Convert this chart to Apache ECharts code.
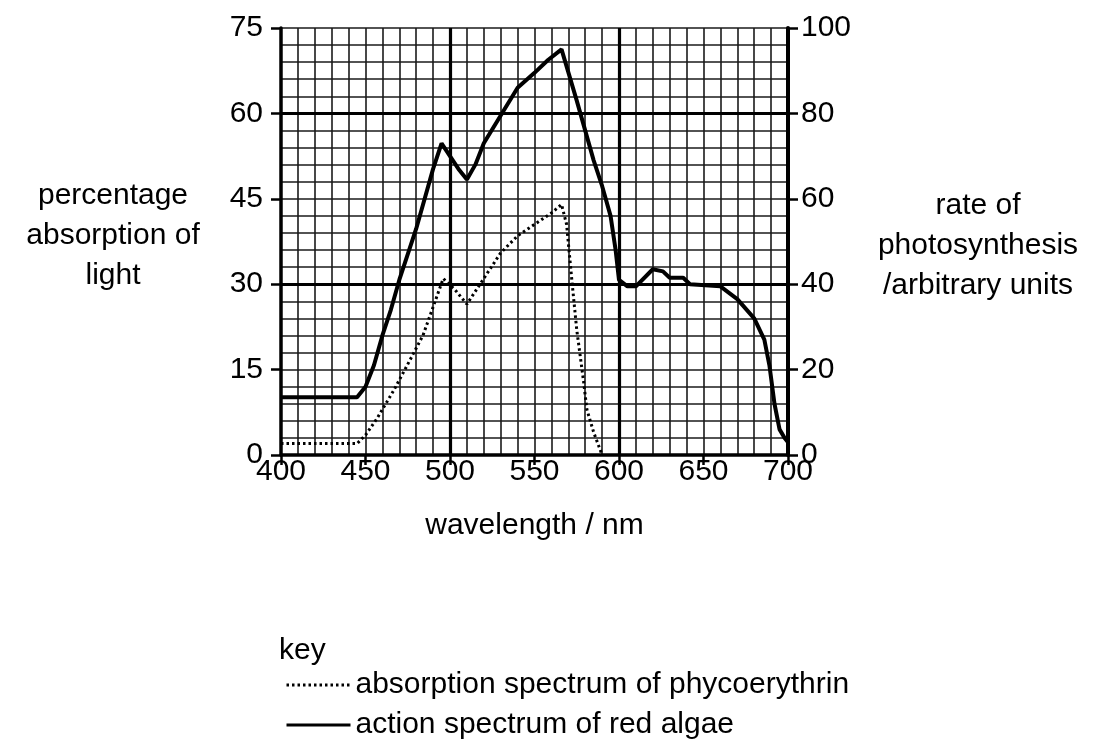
<!DOCTYPE html>
<html>
<head>
<meta charset="utf-8">
<script src="https://cdn.jsdelivr.net/npm/echarts@6/dist/echarts.min.js"></script>
<style>
  html, body { margin: 0; padding: 0; background: #fff; }
  #chart { width: 1095px; height: 745px; }
</style>
</head>
<body>
<div id="chart"></div>
<script>
// phycoerythrin absorption, % (left axis)
const absorption = [
  [400, 2], [445, 2], [450, 3.5], [457, 6.5], [467, 11.5], [476, 16.5],
  [484, 21], [490, 26], [496, 31], [503, 29], [510, 26.5], [520, 31],
  [530, 35.5], [540, 38.5], [550, 40.5], [560, 42.5], [566, 44],
  [569, 40.5], [572, 31], [575, 22], [579, 13], [581, 8], [585, 4], [590, 0]
];
// red algae action spectrum, arbitrary units (right axis)
const action = [
  [400, 13.5], [445, 13.5], [450, 16], [455, 21], [460, 28], [465, 34],
  [470, 41], [480, 53], [490, 67], [495, 73], [500, 70], [505, 67],
  [510, 64.5], [515, 68], [520, 73], [530, 79.5], [540, 86], [550, 89.5],
  [558, 92.5], [566, 95], [575, 83], [585, 69], [590, 63], [595, 56],
  [598, 48], [600, 41], [605, 39.5], [610, 39.5], [620, 43.5], [626, 43],
  [630, 41.5], [638, 41.5], [642, 40], [660, 39.5], [670, 36.5], [680, 32],
  [686, 27], [689, 21], [692, 12], [695, 6], [698, 4], [700, 3]
];
// heavy grid lines
const majorX = [500, 600];
const majorY = [30, 60];

const seriesNames = ['absorption spectrum of phycoerythrin', 'action spectrum of red algae'];
const FONT = 'Liberation Sans, Arial, sans-serif';

let chart = echarts.init(document.getElementById('chart'));

const thinGrid = { show: true, lineStyle: { color: '#1a1a1a', width: 1.6 } };

chart.setOption({
  backgroundColor: '#fff',
  animation: false,
  grid: { left: 281, right: 307, top: 28, bottom: 290 },
  legend: {
    data: seriesNames,
    orient: 'vertical',
    left: 280,
    bottom: 0,
    itemWidth: 64,
    itemHeight: 2,
    itemGap: 10,
    selectedMode: false,
    itemStyle: { opacity: 0 },
    lineStyle: { width: 3 },
    textStyle: { fontFamily: FONT, fontSize: 30, color: '#000' }
  },
  graphic: [
    { type: 'text', left: 279, top: 636,
      style: { text: 'key', font: '30px ' + FONT, fill: '#000' } },
    { type: 'text', x: 113, y: 236,
      style: { text: 'percentage\nabsorption of\nlight', font: '30px ' + FONT, fill: '#000',
               textAlign: 'center', textVerticalAlign: 'middle', lineHeight: 40 } },
    { type: 'text', x: 978, y: 246,
      style: { text: 'rate of\nphotosynthesis\n/arbitrary units', font: '30px ' + FONT, fill: '#000',
               textAlign: 'center', textVerticalAlign: 'middle', lineHeight: 40 } }
  ],
  xAxis: [
    {
      type: 'value', min: 400, max: 700, interval: 50,
      name: 'wavelength / nm', nameLocation: 'middle', nameGap: 56,
      nameTextStyle: { fontFamily: FONT, fontSize: 30, color: '#000' },
      axisLine: { show: true, onZero: false, lineStyle: { color: '#000', width: 3.5 } },
      axisTick: { show: true, length: 10, lineStyle: { color: '#000', width: 2.5 } },
      axisLabel: { margin: 2, fontFamily: FONT, fontSize: 30, color: '#000' },
      splitLine: { show: false }
    },
    {
      type: 'value', min: 400, max: 700, interval: 10,
      axisLine: { show: false }, axisTick: { show: false }, axisLabel: { show: false },
      splitLine: thinGrid
    }
  ],
  yAxis: [
    {
      type: 'value', min: 0, max: 75, interval: 15, position: 'left',
      axisLine: { show: true, lineStyle: { color: '#000', width: 3.5 } },
      axisTick: { show: true, length: 10, lineStyle: { color: '#000', width: 2.5 } },
      axisLabel: { margin: 18, fontFamily: FONT, fontSize: 30, color: '#000' },
      splitLine: { show: false }
    },
    {
      type: 'value', min: 0, max: 100, interval: 20, position: 'right',
      axisLine: { show: true, lineStyle: { color: '#000', width: 4 } },
      axisTick: { show: true, length: 10, lineStyle: { color: '#000', width: 2.5 } },
      axisLabel: { margin: 13, fontFamily: FONT, fontSize: 30, color: '#000' },
      splitLine: { show: false }
    },
    {
      type: 'value', min: 0, max: 75, interval: 3, position: 'left',
      axisLine: { show: false }, axisTick: { show: false }, axisLabel: { show: false },
      splitLine: thinGrid
    }
  ],
  series: [
    {
      name: seriesNames[0],
      type: 'line',
      xAxisIndex: 0, yAxisIndex: 0,
      data: absorption,
      symbol: 'none',
      z: 5,
      lineStyle: { color: '#000', width: 3, type: [2.5, 3] },
      itemStyle: { color: '#000' },
      markLine: {
        silent: true,
        symbol: ['none', 'none'],
        label: { show: false },
        lineStyle: { color: '#000', width: 3.2, type: 'solid' },
        data: majorX.map(v => ({ xAxis: v })).concat(majorY.map(v => ({ yAxis: v })))
      }
    },
    {
      name: seriesNames[1],
      type: 'line',
      xAxisIndex: 0, yAxisIndex: 1,
      data: action,
      symbol: 'none',
      z: 6,
      lineStyle: { color: '#000', width: 4 },
      itemStyle: { color: '#000' }
    }
  ]
});
</script>
</body>
</html>
